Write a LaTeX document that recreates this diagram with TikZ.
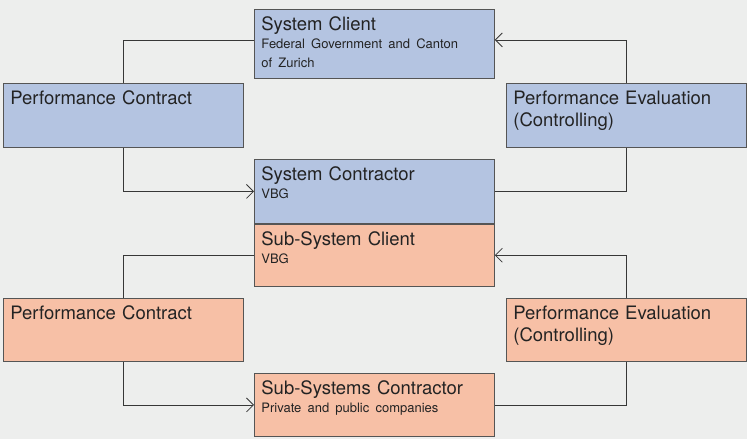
\documentclass[tikz,border=0pt]{standalone}
\usepackage{fontspec}
\setmainfont{TeX Gyre Heros}
\usetikzlibrary{positioning,arrows.meta}

\definecolor{bggrey}{RGB}{237,238,237}
\definecolor{boxblue}{RGB}{180,196,225}
\definecolor{boxpeach}{RGB}{247,192,166}
\definecolor{edgegrey}{RGB}{85,85,85}
\definecolor{linegrey}{RGB}{55,55,55}
\definecolor{textgrey}{RGB}{35,35,35}
\newcommand{\subtxt}{\fontsize{13}{22}\selectfont}

\begin{document}
\begin{tikzpicture}[x=1pt,y=-1pt,
    panel/.style={draw=edgegrey,line width=0.8pt,anchor=north west,
      inner xsep=7pt,inner ysep=0pt,text width=226pt,align=left,
      text height=21pt,text depth=#1,text=textgrey,
      font=\fontsize{18.5}{22}\selectfont},
    bluepanel/.style={panel=#1,fill=boxblue},
    peachpanel/.style={panel=#1,fill=boxpeach},
    conn/.style={draw=linegrey,line width=0.8pt},
    inarrow/.style={-{Straight Barb[length=7pt,width=14pt]}}]
    \fill[bggrey] (0,0) rectangle (747,439);
    \useasboundingbox (0,0) rectangle (747,439);

    % upper level
    \node[bluepanel=48pt] (sclient) at (254,9)
      {System Client\\[-4pt]\subtxt Federal Government and Canton\\[-3pt]of Zurich};
    \node[bluepanel=43pt] (pctop) at (3,83) {Performance Contract};
    \node[bluepanel=43pt] (petop) at (506,83)
      {Performance Evaluation\\(Controlling)};
    \node[bluepanel=43pt] (scontr) at (254,159)
      {System Contractor\\[-4pt]\subtxt VBG};

    % lower level
    \node[peachpanel=41pt,below=0pt of scontr] (ssclient)
      {Sub-System Client\\[-4pt]\subtxt VBG};
    \node[peachpanel=42pt] (pcbot) at (3,298) {Performance Contract};
    \node[peachpanel=42pt] (pebot) at (506,298)
      {Performance Evaluation\\(Controlling)};
    \node[peachpanel=42pt] (sscontr) at (254,373)
      {Sub-Systems Contractor\\[-4pt]\subtxt Private and public companies};

    % loops
    \draw[conn] ([yshift=4pt]sclient.west) -| (pctop.north);
    \draw[conn,inarrow] (pctop.south) |- (scontr.west);
    \draw[conn] (scontr.east) -| (petop.south);
    \draw[conn,inarrow] (petop.north) |- ([yshift=4pt]sclient.east);

    \draw[conn] (ssclient.west) -| (pcbot.north);
    \draw[conn,inarrow] (pcbot.south) |- (sscontr.west);
    \draw[conn] (sscontr.east) -| (pebot.south);
    \draw[conn,inarrow] (pebot.north) |- (ssclient.east);
\end{tikzpicture}
\end{document}
